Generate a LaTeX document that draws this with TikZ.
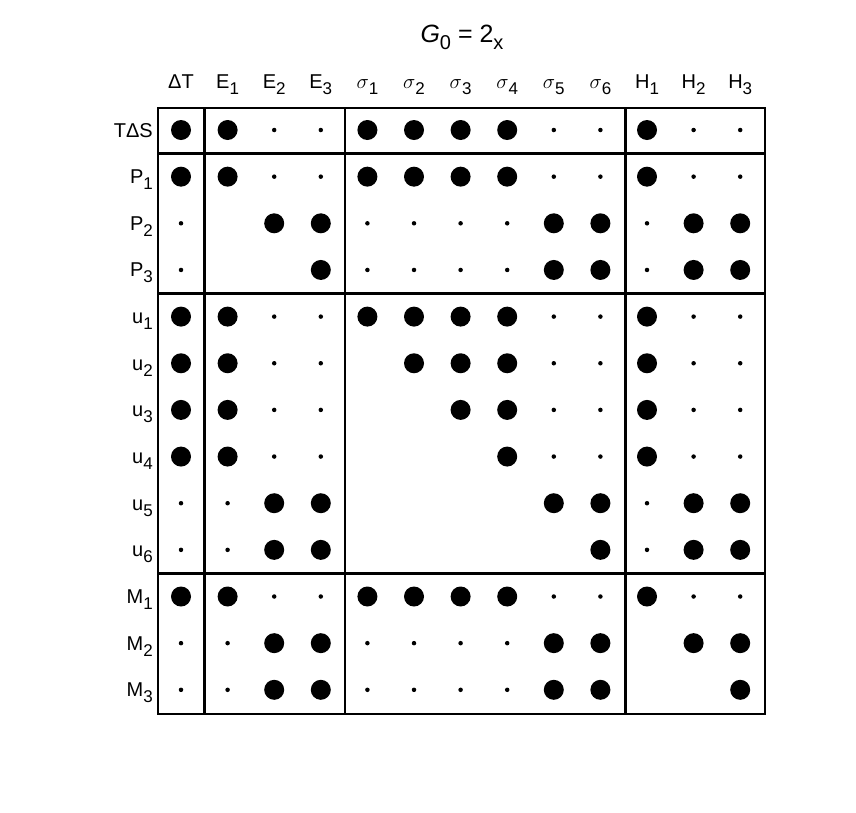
\documentclass[tikz,border=0pt]{standalone}
\usepackage{fontspec}
\setmainfont{Liberation Sans}
\newcommand{\mysb}[1]{\raisebox{-6pt}{\fontsize{17}{19}\selectfont #1}}
\begin{document}
\begin{tikzpicture}[x=1pt,y=-1pt,
  big/.style={circle,fill=black,inner sep=0pt,minimum size=20pt},
  small/.style={circle,fill=black,inner sep=0pt,minimum size=4.5pt},
  lab/.style={font=\fontsize{20}{22}\selectfont,inner sep=0pt},
  frame/.style={line width=2.8pt}]
\useasboundingbox (0,0) rectangle (856,812);
\node[font=\fontsize{25}{27}\selectfont,anchor=base] (title) at (462,42) {\itshape G\upshape\raisebox{-7pt}{\fontsize{20}{22}\selectfont 0} = 2\raisebox{-7pt}{\fontsize{20}{22}\selectfont x}};
% column labels
\foreach \t [count=\i from 0] in {ΔT,E\mysb{1},E\mysb{2},E\mysb{3},$\sigma$\mysb{1},$\sigma$\mysb{2},$\sigma$\mysb{3},$\sigma$\mysb{4},$\sigma$\mysb{5},$\sigma$\mysb{6},H\mysb{1},H\mysb{2},H\mysb{3}}
  \node[lab,anchor=base] (c\i) at ({181+46.6*\i},88) {\t};
% row labels
\foreach \t [count=\j from 0] in {TΔS,P\mysb{1},P\mysb{2},P\mysb{3},u\mysb{1},u\mysb{2},u\mysb{3},u\mysb{4},u\mysb{5},u\mysb{6},M\mysb{1},M\mysb{2},M\mysb{3}}
  \node[lab,anchor=base east] (r\j) at (153,{137+46.65*\j}) {\t};
% dots
\foreach \row [count=\j from 0] in {
 {B,B,s,s,B,B,B,B,s,s,B,s,s},
 {B,B,s,s,B,B,B,B,s,s,B,s,s},
 {s,n,B,B,s,s,s,s,B,B,s,B,B},
 {s,n,n,B,s,s,s,s,B,B,s,B,B},
 {B,B,s,s,B,B,B,B,s,s,B,s,s},
 {B,B,s,s,n,B,B,B,s,s,B,s,s},
 {B,B,s,s,n,n,B,B,s,s,B,s,s},
 {B,B,s,s,n,n,n,B,s,s,B,s,s},
 {s,s,B,B,n,n,n,n,B,B,s,B,B},
 {s,s,B,B,n,n,n,n,n,B,s,B,B},
 {B,B,s,s,B,B,B,B,s,s,B,s,s},
 {s,s,B,B,s,s,s,s,B,B,n,B,B},
 {s,s,B,B,s,s,s,s,B,B,n,n,B}}
 \foreach \v [count=\i from 0] in \row {
   \if\v B \node[big] (d\j-\i) at ({181+46.6*\i},{130+46.65*\j}) {};\fi
   \if\v s \node[small] (d\j-\i) at ({181+46.6*\i},{130+46.65*\j}) {};\fi
 };
% frame
\draw[frame] (158,108) rectangle (765,714);
\foreach \x in {204.5,345,625.5} \draw[frame] (\x,108) -- (\x,714);
\foreach \y in {153.5,293.5,573.5} \draw[frame] (158,\y) -- (765,\y);
\end{tikzpicture}
\end{document}
